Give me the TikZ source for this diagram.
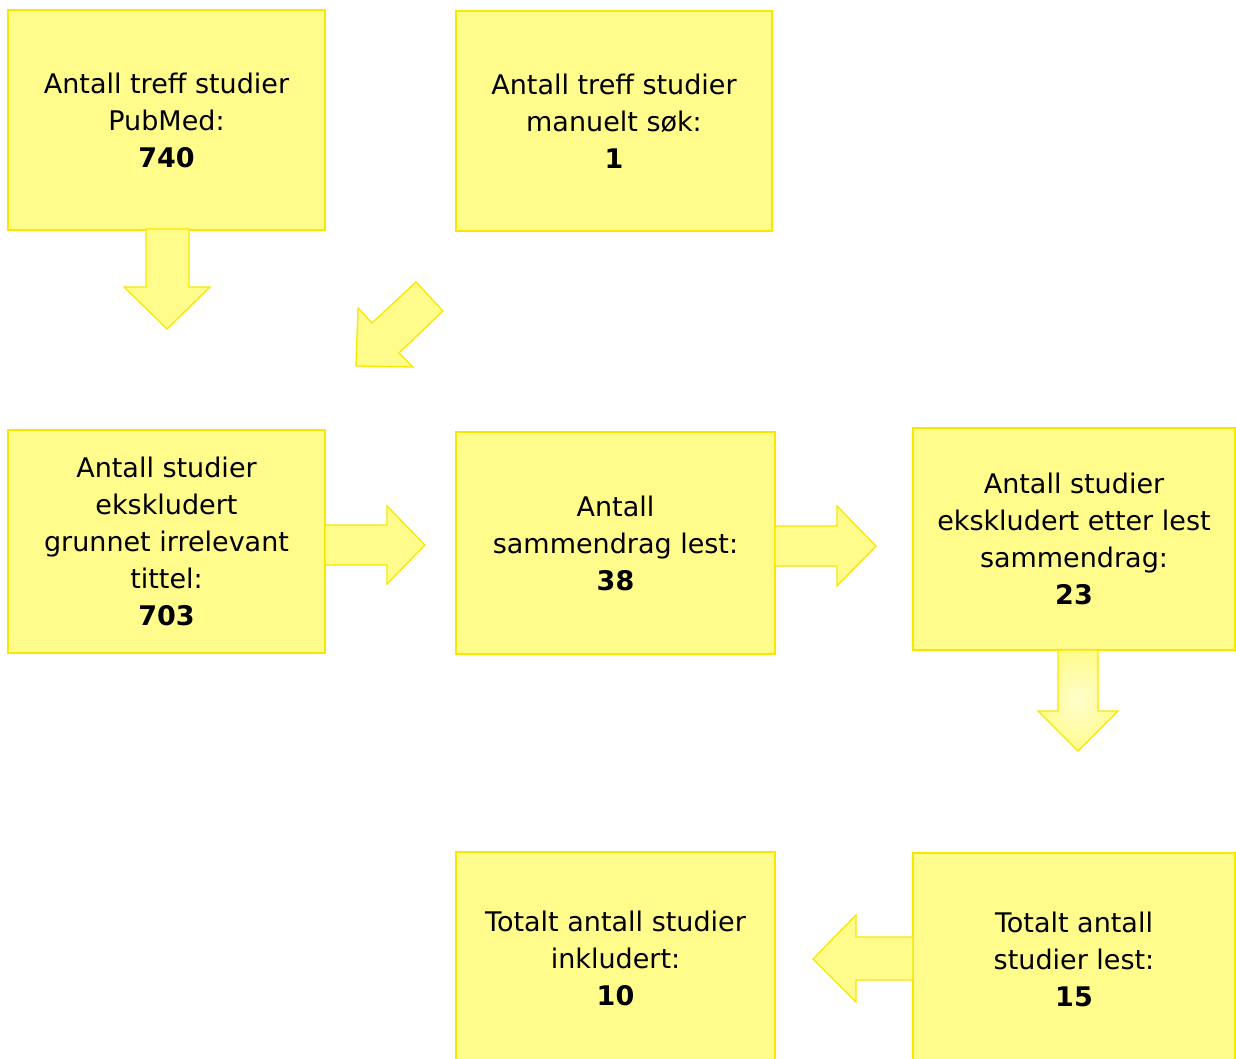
\documentclass[tikz,border=0pt]{standalone}
\usepackage{fontspec}
\setmainfont{DejaVu Sans}
\definecolor{boxfill}{RGB}{255,252,140}
\definecolor{boxline}{RGB}{248,232,0}
\definecolor{arrlight}{RGB}{255,254,205}
\begin{document}
\begin{tikzpicture}[x=1pt,y=-1pt,
  box/.style={draw=boxline,fill=boxfill,line width=1.3pt,align=center,inner sep=0pt,
    font=\fontsize{27}{37}\selectfont},
  arr/.style={draw=boxline,fill=boxfill,line width=1.3pt,line join=miter}]
\useasboundingbox (0,0) rectangle (1236,1059);
% boxes
\node[box,minimum width=317pt,minimum height=220pt] (b1) at (166.5,120) {Antall treff studier\\PubMed:\\\textbf{740}};
\node[box,minimum width=316pt,minimum height=220pt] (b2) at (614,121) {Antall treff studier\\manuelt søk:\\\textbf{1}};
\node[box,minimum width=317pt,minimum height=223pt] (b3) at (166.5,541.5) {Antall studier\\ekskludert\\grunnet irrelevant\\tittel:\\\textbf{703}};
\node[box,minimum width=319pt,minimum height=222pt] (b4) at (615.5,543) {Antall\\sammendrag lest:\\\textbf{38}};
\node[box,minimum width=322pt,minimum height=222pt] (b5) at (1074,539) {Antall studier\\ekskludert etter lest\\sammendrag:\\\textbf{23}};
\node[box,minimum width=319pt,minimum height=212pt] (b6) at (615.5,958) {Totalt antall studier\\inkludert:\\\textbf{10}};
\node[box,minimum width=322pt,minimum height=212pt] (b7) at (1074,959) {Totalt antall\\studier lest:\\\textbf{15}};
% arrows
\draw[arr] (146,229) -- (146,287) -- (124,287) -- (167,329) -- (210,287) -- (189,287) -- (189,229) -- cycle;
\draw[arr] (416,282) -- (443,311) -- (399,353) -- (413,367) -- (356,366) -- (358,308) -- (372,323) -- cycle;
\draw[arr] (325,525) -- (387,525) -- (387,506) -- (425,545) -- (387,584) -- (387,565) -- (325,565) -- cycle;
\draw[arr] (775,526) -- (837,526) -- (837,506) -- (876,546) -- (837,586) -- (837,566) -- (775,566) -- cycle;
\draw[arr,inner color=arrlight,outer color=boxfill] (1058,650) -- (1058,711) -- (1038,711) -- (1078,751) -- (1118,711) -- (1098,711) -- (1098,650) -- cycle;
\draw[arr] (913,937) -- (856,937) -- (856,915) -- (813,959) -- (856,1002) -- (856,980) -- (913,980) -- cycle;
\end{tikzpicture}
\end{document}
